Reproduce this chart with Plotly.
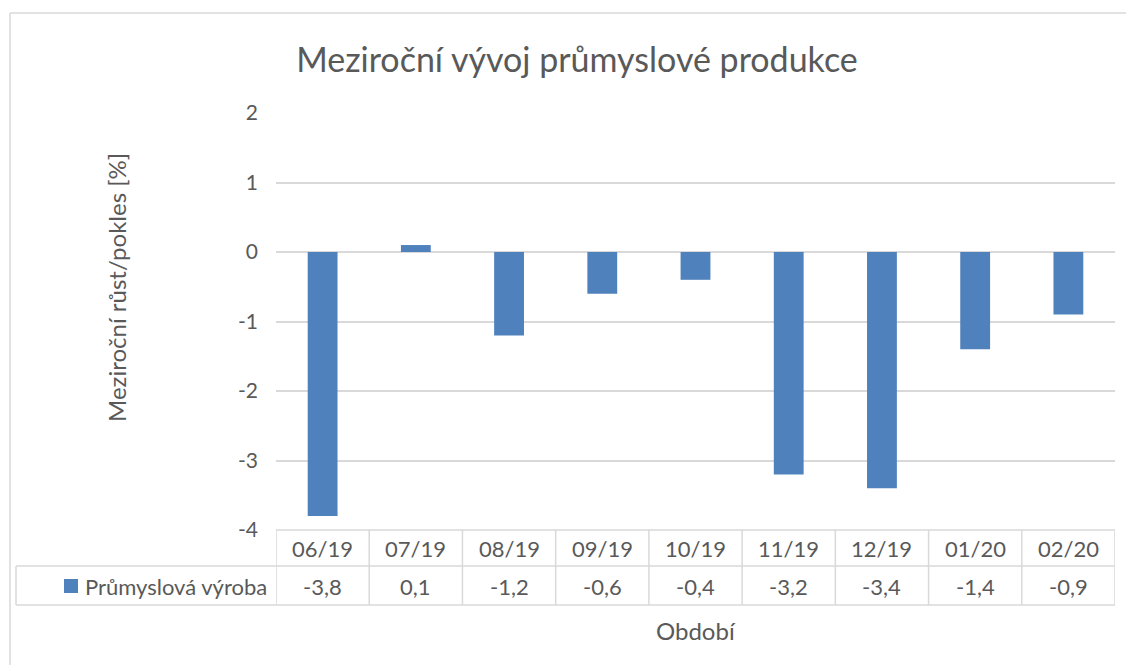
import plotly.graph_objects as go

periods = ["06/19", "07/19", "08/19", "09/19", "10/19", "11/19", "12/19", "01/20", "02/20"]
values = [-3.8, 0.1, -1.2, -0.6, -0.4, -3.2, -3.4, -1.4, -0.9]
series_name = "Průmyslová výroba"
y_ticks = [-4, -3, -2, -1, 0, 1, 2]

font_name = "Lato, Open Sans, sans-serif"
text_color = "#595959"
grid_color = "#d9d9d9"
bar_color = "#4f81bd"

# the page body has an 8px margin, so work in screen pixels minus 8
OFF = 8
W, H = 1134 - OFF, 665 - OFF
plot_left, plot_right, plot_top, plot_bottom = 276, 1115, 113, 530
left = plot_left - OFF
top = plot_top - OFF
right = W - (plot_right - OFF)
bottom = H - (plot_bottom - OFF)
plot_w = plot_right - plot_left
plot_h = plot_bottom - plot_top


def py(p):
    # screen pixel y -> paper y
    return (plot_bottom - p) / plot_h


def px(p):
    # screen pixel x -> paper x
    return (p - plot_left) / plot_w


fig = go.Figure()
fig.add_trace(go.Bar(x=list(range(len(periods))), y=values, name=series_name,
                     marker=dict(color=bar_color, line=dict(width=0))))

line_style = dict(color=grid_color, width=1.5)
shapes = []
# outer chart border (only top and left are visible in the frame)
shapes.append(dict(type="line", xref="paper", yref="paper", x0=px(10), x1=px(1140),
                   y0=py(13), y1=py(13), line=line_style))
shapes.append(dict(type="line", xref="paper", yref="paper", x0=px(10), x1=px(10),
                   y0=py(13), y1=py(670), line=line_style))
# table horizontal lines
shapes.append(dict(type="line", xref="paper", yref="paper", x0=0, x1=1,
                   y0=py(530), y1=py(530), line=line_style))
for yy in [566, 605]:
    shapes.append(dict(type="line", xref="paper", yref="paper", x0=px(16), x1=1,
                       y0=py(yy), y1=py(yy), line=line_style))
shapes.append(dict(type="line", xref="paper", yref="paper", x0=px(16), x1=px(16),
                   y0=py(566), y1=py(605), line=line_style))
# table vertical lines at category boundaries
for i in range(len(periods) + 1):
    shapes.append(dict(type="line", xref="x", yref="paper", x0=i - 0.5, x1=i - 0.5,
                       y0=py(530), y1=py(605), line=line_style))
# legend key
shapes.append(dict(type="rect", xref="paper", yref="paper", x0=px(64), x1=px(78),
                   y0=py(593), y1=py(579), fillcolor=bar_color, line=dict(width=0)))

cell_font = dict(size=22, color=text_color, family=font_name)
annotations = []
for i, (p, v) in enumerate(zip(periods, values)):
    annotations.append(dict(x=i, y=py(548), xref="x", yref="paper", text=p,
                            showarrow=False, yanchor="middle", font=cell_font))
    annotations.append(dict(x=i, y=py(586), xref="x", yref="paper",
                            text=("%.1f" % v).replace(".", ","), showarrow=False,
                            yanchor="middle", font=cell_font))
annotations.append(dict(x=px(83), y=py(586), xref="paper", yref="paper", text=series_name,
                        xanchor="left", yanchor="middle", showarrow=False, font=cell_font))
annotations.append(dict(x=px(696), y=py(630), xref="paper", yref="paper", text="Období",
                        showarrow=False, xanchor="center", yanchor="middle",
                        font=dict(size=24, color=text_color, family=font_name)))
annotations.append(dict(x=px(116), y=py(288), xref="paper", yref="paper",
                        text="Meziroční růst/pokles [%]", textangle=-90, showarrow=False,
                        xanchor="center", yanchor="middle",
                        font=dict(size=24, color=text_color, family=font_name)))

fig.update_layout(
    width=W, height=H,
    margin=dict(l=left, r=right, t=top, b=bottom),
    paper_bgcolor="white", plot_bgcolor="white",
    showlegend=False,
    bargap=0.68,
    title=dict(text="Meziroční vývoj průmyslové produkce", x=(577 - OFF) / W,
               xanchor="center", y=1 - (60 - OFF) / H, yanchor="middle",
               font=dict(size=34, color=text_color, family=font_name)),
    xaxis=dict(range=[-0.5, len(periods) - 0.5], showticklabels=False, showgrid=False,
               zeroline=False, showline=False),
    yaxis=dict(range=[-4, 2], tickvals=y_ticks, ticktext=[str(t) for t in y_ticks],
               showgrid=True, gridcolor=grid_color, gridwidth=1.5, zeroline=True,
               zerolinecolor=grid_color, zerolinewidth=1.5, showline=False,
               ticklabelstandoff=17,
               tickfont=dict(size=21, color=text_color, family=font_name)),
    shapes=shapes,
    annotations=annotations,
)

fig.write_html("out.html")
